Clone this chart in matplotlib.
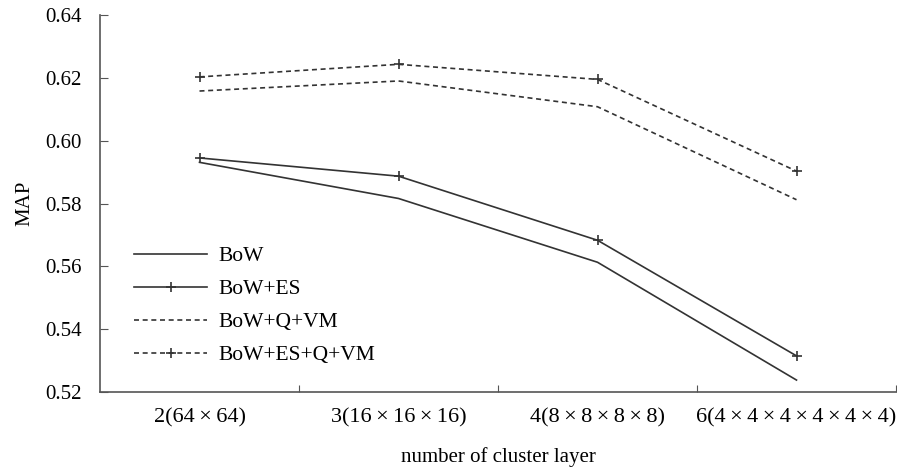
import matplotlib
matplotlib.use("Agg")
import matplotlib.pyplot as plt

# data
categories = ["2(64×64)", "3(16×16×16)", "4(8×8×8×8)", "6(4×4×4×4×4×4)"]
bow = [0.5931, 0.5816, 0.5613, 0.5238]
bow_es = [0.5945, 0.5887, 0.5683, 0.5315]
bow_q_vm = [0.6158, 0.6190, 0.6108, 0.5812]
bow_es_q_vm = [0.6203, 0.6243, 0.6195, 0.5903]

plt.rcParams["font.family"] = ["Liberation Serif", "DejaVu Serif"]

fig = plt.figure(figsize=(8.97, 4.71), dpi=100)
ax = fig.add_axes([100 / 897, 79 / 471, 796 / 897, 377 / 471])

xs = [i + 0.5 for i in range(len(categories))]
col = "#333333"
ax.plot(xs, bow, color=col, lw=1.2, label="BoW")
ax.plot(xs, bow_es, color=col, lw=1.2, marker="+", ms=7, mew=1.2, label="BoW+ES")
ax.plot(xs, bow_q_vm, color=col, lw=1.2, ls=(0, (3, 2.2)), label="BoW+Q+VM")
ax.plot(xs, bow_es_q_vm, color=col, lw=1.2, ls=(0, (3, 2.2)), marker="+", ms=7, mew=1.2,
        label="BoW+ES+Q+VM")

# wider multiplication signs like the original typesetting
cat_labels = [c.replace("×", "\u2009×\u2009") for c in categories]

ax.set_xlim(0, 4)
ax.set_ylim(0.52, 0.64)
ax.set_yticks([0.52, 0.54, 0.56, 0.58, 0.60, 0.62, 0.64])
ax.set_yticklabels(["%.2f" % v for v in ax.get_yticks()], fontsize=15)
ax.set_xticks([1, 2, 3, 4])
ax.set_xticklabels([])
ax.set_xticks(xs, minor=True)
ax.set_xticklabels(cat_labels, minor=True, fontsize=16)
ax.tick_params(axis="x", which="minor", length=0, pad=12)
ax.tick_params(axis="x", which="major", direction="in", length=5, color="#555555")
ax.tick_params(axis="y", direction="in", length=6, color="#555555", pad=13)

for s in ["top", "right"]:
    ax.spines[s].set_visible(False)
for s in ["left", "bottom"]:
    ax.spines[s].set_color("#555555")
    ax.spines[s].set_linewidth(1.2)

ax.set_ylabel("MAP", fontsize=15, labelpad=8)
ax.set_xlabel("number of cluster layer", fontsize=15, labelpad=14)

ax.legend(loc="lower left", bbox_to_anchor=(0.019, 0.02), frameon=False, fontsize=15.5,
          handlelength=3.35, labelspacing=0.6, handletextpad=0.55, borderpad=0.4)

fig.savefig("out.png", dpi=100)
